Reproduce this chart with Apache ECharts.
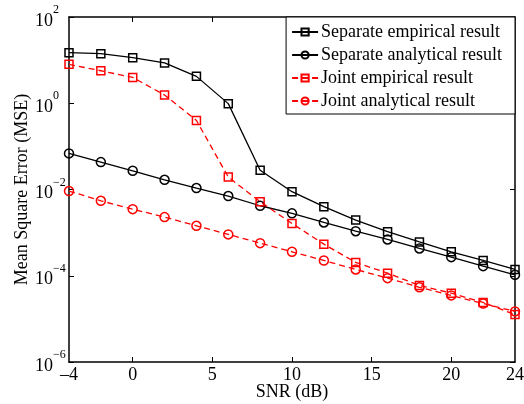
<!DOCTYPE html>
<html>
<head>
<meta charset="utf-8">
<script src="https://cdn.jsdelivr.net/npm/echarts@6/dist/echarts.min.js"></script>
<style>html,body{margin:0;padding:0;background:#fff}#c{width:524px;height:404px}</style>
</head>
<body>
<div id="c"></div>
<script>
var snr = [-4, -2, 0, 2, 4, 6, 8, 10, 12, 14, 16, 18, 20, 22, 24];
var sepEmpirical = [14.9, 14.1, 11.4, 8.6, 4.2, 0.98, 0.028, 0.0089, 0.004, 0.00195, 0.00105, 0.00061, 0.00036, 0.000226, 0.00014];
var sepAnalytical = [0.0687, 0.0432, 0.0272, 0.0168, 0.0108, 0.00704, 0.0042, 0.0028, 0.00172, 0.00108, 0.000695, 0.00043, 0.00027, 0.000167, 0.000105];
var jointEmpirical = [7.98, 5.67, 3.98, 1.55, 0.40, 0.0194, 0.0052, 0.00163, 0.00054, 0.000204, 0.000115, 0.0000596, 0.0000395, 0.000024, 0.0000126];
var jointAnalytical = [0.0092, 0.00547, 0.0035, 0.00229, 0.00144, 0.00091, 0.00057, 0.00036, 0.000226, 0.00014, 0.000088, 0.000054, 0.000035, 0.0000227, 0.0000149];
var xTickValues = [0, 5, 10, 15, 20];
var xLabelValues = [-4, 0, 5, 10, 15, 20, 24];
var seriesNames = ['Separate empirical result', 'Separate analytical result', 'Joint empirical result', 'Joint analytical result'];

var FONT = 'Liberation Serif';
function pairs(arr) { return snr.map(function (x, i) { return [x, arr[i]]; }); }
function mk(name, data, color, symbol, dashed, size) {
  return {
    name: name, type: 'line', data: pairs(data),
    symbol: symbol, symbolSize: size,
    lineStyle: { color: color, width: 1.3, type: dashed ? [6, 4] : 'solid' },
    itemStyle: { color: 'rgba(255,255,255,0)', borderColor: color, borderWidth: 1.5 },
    emphasis: { disabled: true }, animation: false, z: 3
  };
}
var chart = echarts.init(document.getElementById('c'), null, { renderer: 'canvas' });
chart.setOption({
  animation: false,
  grid: { left: 69, right: 9, top: 17, bottom: 42, containLabel: false, outerBoundsMode: 'none' },
  legend: {
    orient: 'vertical', right: 9, top: 17,
    backgroundColor: '#fff', borderColor: '#000', borderWidth: 1,
    padding: [6, 13, 4, 5], itemGap: 5, itemWidth: 26, itemHeight: 9,
    textStyle: { fontFamily: FONT, fontSize: 18, color: '#000', padding: [0, 0, 0, -2] },
    data: seriesNames
  },
  xAxis: [{
    type: 'value', min: -4, max: 24, position: 'bottom',
    name: 'SNR (dB)', nameLocation: 'middle', nameGap: 21, nameMoveOverlap: false,
    nameTextStyle: { fontFamily: FONT, fontSize: 18, color: '#000' },
    axisLine: { onZero: false, lineStyle: { color: '#000', width: 1.5 } },
    axisTick: { inside: true, length: 5, customValues: xTickValues, lineStyle: { color: '#000' } },
    axisLabel: { customValues: xLabelValues, fontFamily: FONT, fontSize: 18, color: '#000', margin: 4,
      formatter: function (v) { return v < 0 ? '\u2013' + Math.abs(v) : String(v); } },
    splitLine: { show: false }
  }, {
    type: 'value', min: -4, max: 24, position: 'top',
    axisLine: { onZero: false, lineStyle: { color: '#000', width: 1.5 } },
    axisTick: { inside: true, length: 5, customValues: xTickValues, lineStyle: { color: '#000' } },
    axisLabel: { show: false }, splitLine: { show: false }
  }],
  yAxis: [{
    type: 'log', logBase: 10, min: 1e-6, max: 100, interval: 2, position: 'left',
    name: 'Mean Square Error (MSE)', nameLocation: 'middle', nameGap: 38, nameMoveOverlap: false,
    nameTextStyle: { fontFamily: FONT, fontSize: 18, color: '#000' },
    axisLine: { show: true, onZero: false, lineStyle: { color: '#000', width: 1.5 } },
    axisTick: { show: true, inside: true, length: 5, lineStyle: { color: '#000' } },
    axisLabel: {
      align: 'left', margin: 34, color: '#000',
      formatter: function (v) {
        var e = Math.round(Math.log10(v));
        return '{b|10}{s|' + (e < 0 ? '\u2212' + Math.abs(e) : e) + '}';
      },
      rich: {
        b: { fontFamily: FONT, fontSize: 18, color: '#000', lineHeight: 26, verticalAlign: 'bottom' },
        s: { fontFamily: FONT, fontSize: 12, color: '#000', verticalAlign: 'top', lineHeight: 14 }
      }
    },
    splitLine: { show: false }
  }, {
    type: 'log', logBase: 10, min: 1e-6, max: 100, interval: 2, position: 'right',
    axisLine: { show: true, onZero: false, lineStyle: { color: '#000', width: 1.5 } },
    axisTick: { show: true, inside: true, length: 5, lineStyle: { color: '#000' } },
    axisLabel: { show: false }, splitLine: { show: false }
  }],
  series: [
    mk(seriesNames[0], sepEmpirical, '#000', 'rect', false, 8),
    mk(seriesNames[1], sepAnalytical, '#000', 'circle', false, 9),
    mk(seriesNames[2], jointEmpirical, '#ff0000', 'rect', true, 8),
    mk(seriesNames[3], jointAnalytical, '#ff0000', 'circle', true, 9)
  ]
});
</script>
</body>
</html>
